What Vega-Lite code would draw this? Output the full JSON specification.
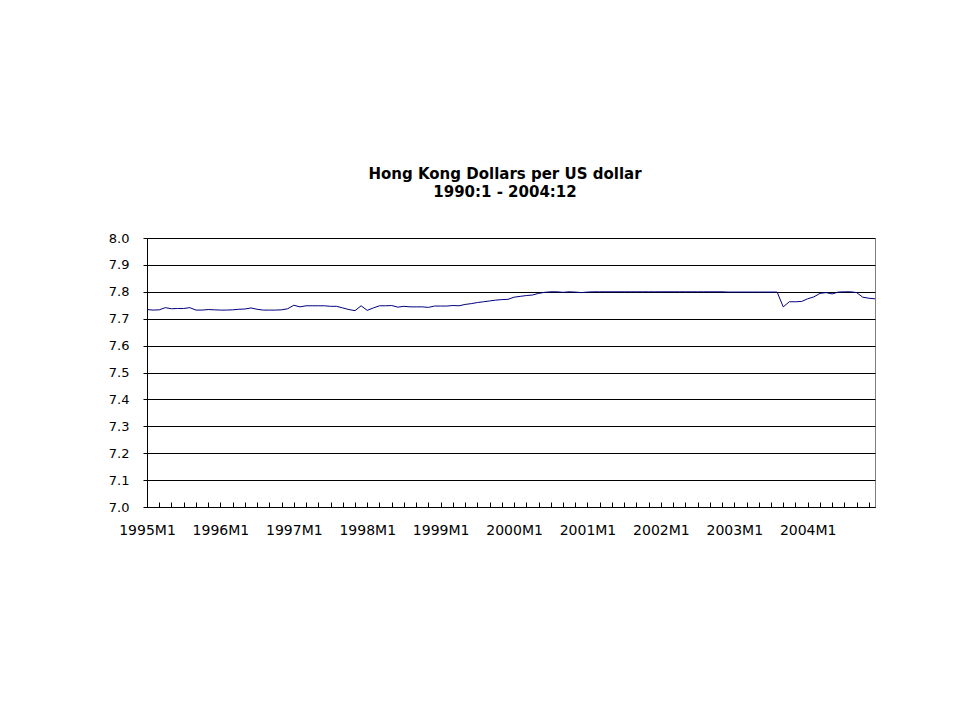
{
  "$schema": "https://vega.github.io/schema/vega-lite/v6.json",
  "width": 728,
  "height": 269,
  "autosize": {"type": "none"},
  "padding": {"left": 147, "top": 238, "right": 81, "bottom": 214},
  "background": "white",
  "title": {
    "text": ["Hong Kong Dollars per US dollar", "1990:1 - 2004:12"],
    "font": "DejaVu Sans",
    "fontSize": 15,
    "fontWeight": "bold",
    "color": "black",
    "anchor": "middle",
    "offset": 32,
    "lineHeight": 18,
    "dx": -6
  },
  "data": {
    "values": [
      {"period": "1995M1", "rate": 7.734}, {"period": "1995M2", "rate": 7.732}, {"period": "1995M3", "rate": 7.733}, {"period": "1995M4", "rate": 7.741},
      {"period": "1995M5", "rate": 7.737}, {"period": "1995M6", "rate": 7.738}, {"period": "1995M7", "rate": 7.738}, {"period": "1995M8", "rate": 7.741},
      {"period": "1995M9", "rate": 7.732}, {"period": "1995M10", "rate": 7.732}, {"period": "1995M11", "rate": 7.734}, {"period": "1995M12", "rate": 7.733},
      {"period": "1996M1", "rate": 7.732}, {"period": "1996M2", "rate": 7.732}, {"period": "1996M3", "rate": 7.733}, {"period": "1996M4", "rate": 7.735},
      {"period": "1996M5", "rate": 7.736}, {"period": "1996M6", "rate": 7.740}, {"period": "1996M7", "rate": 7.735}, {"period": "1996M8", "rate": 7.732},
      {"period": "1996M9", "rate": 7.732}, {"period": "1996M10", "rate": 7.732}, {"period": "1996M11", "rate": 7.733}, {"period": "1996M12", "rate": 7.737},
      {"period": "1997M1", "rate": 7.750}, {"period": "1997M2", "rate": 7.744}, {"period": "1997M3", "rate": 7.748}, {"period": "1997M4", "rate": 7.748},
      {"period": "1997M5", "rate": 7.748}, {"period": "1997M6", "rate": 7.748}, {"period": "1997M7", "rate": 7.746}, {"period": "1997M8", "rate": 7.746},
      {"period": "1997M9", "rate": 7.740}, {"period": "1997M10", "rate": 7.734}, {"period": "1997M11", "rate": 7.730}, {"period": "1997M12", "rate": 7.748},
      {"period": "1998M1", "rate": 7.731}, {"period": "1998M2", "rate": 7.740}, {"period": "1998M3", "rate": 7.748}, {"period": "1998M4", "rate": 7.748},
      {"period": "1998M5", "rate": 7.749}, {"period": "1998M6", "rate": 7.743}, {"period": "1998M7", "rate": 7.746}, {"period": "1998M8", "rate": 7.744},
      {"period": "1998M9", "rate": 7.744}, {"period": "1998M10", "rate": 7.744}, {"period": "1998M11", "rate": 7.742}, {"period": "1998M12", "rate": 7.747},
      {"period": "1999M1", "rate": 7.747}, {"period": "1999M2", "rate": 7.747}, {"period": "1999M3", "rate": 7.749}, {"period": "1999M4", "rate": 7.748},
      {"period": "1999M5", "rate": 7.753}, {"period": "1999M6", "rate": 7.756}, {"period": "1999M7", "rate": 7.760}, {"period": "1999M8", "rate": 7.763},
      {"period": "1999M9", "rate": 7.766}, {"period": "1999M10", "rate": 7.769}, {"period": "1999M11", "rate": 7.771}, {"period": "1999M12", "rate": 7.772},
      {"period": "2000M1", "rate": 7.780}, {"period": "2000M2", "rate": 7.783}, {"period": "2000M3", "rate": 7.786}, {"period": "2000M4", "rate": 7.788},
      {"period": "2000M5", "rate": 7.794}, {"period": "2000M6", "rate": 7.798}, {"period": "2000M7", "rate": 7.800}, {"period": "2000M8", "rate": 7.800},
      {"period": "2000M9", "rate": 7.798}, {"period": "2000M10", "rate": 7.800}, {"period": "2000M11", "rate": 7.799}, {"period": "2000M12", "rate": 7.797},
      {"period": "2001M1", "rate": 7.799}, {"period": "2001M2", "rate": 7.800}, {"period": "2001M3", "rate": 7.800}, {"period": "2001M4", "rate": 7.800},
      {"period": "2001M5", "rate": 7.800}, {"period": "2001M6", "rate": 7.800}, {"period": "2001M7", "rate": 7.800}, {"period": "2001M8", "rate": 7.800},
      {"period": "2001M9", "rate": 7.800}, {"period": "2001M10", "rate": 7.800}, {"period": "2001M11", "rate": 7.800}, {"period": "2001M12", "rate": 7.800},
      {"period": "2002M1", "rate": 7.800}, {"period": "2002M2", "rate": 7.800}, {"period": "2002M3", "rate": 7.800}, {"period": "2002M4", "rate": 7.800},
      {"period": "2002M5", "rate": 7.800}, {"period": "2002M6", "rate": 7.800}, {"period": "2002M7", "rate": 7.800}, {"period": "2002M8", "rate": 7.800},
      {"period": "2002M9", "rate": 7.800}, {"period": "2002M10", "rate": 7.800}, {"period": "2002M11", "rate": 7.800}, {"period": "2002M12", "rate": 7.799},
      {"period": "2003M1", "rate": 7.799}, {"period": "2003M2", "rate": 7.799}, {"period": "2003M3", "rate": 7.799}, {"period": "2003M4", "rate": 7.799},
      {"period": "2003M5", "rate": 7.799}, {"period": "2003M6", "rate": 7.799}, {"period": "2003M7", "rate": 7.799}, {"period": "2003M8", "rate": 7.799},
      {"period": "2003M9", "rate": 7.744}, {"period": "2003M10", "rate": 7.763}, {"period": "2003M11", "rate": 7.763}, {"period": "2003M12", "rate": 7.764},
      {"period": "2004M1", "rate": 7.774}, {"period": "2004M2", "rate": 7.781}, {"period": "2004M3", "rate": 7.794}, {"period": "2004M4", "rate": 7.797},
      {"period": "2004M5", "rate": 7.792}, {"period": "2004M6", "rate": 7.799}, {"period": "2004M7", "rate": 7.800}, {"period": "2004M8", "rate": 7.800},
      {"period": "2004M9", "rate": 7.797}, {"period": "2004M10", "rate": 7.780}, {"period": "2004M11", "rate": 7.776}, {"period": "2004M12", "rate": 7.774}
    ]
  },
  "mark": {"type": "line", "color": "#000080", "strokeWidth": 1},
  "encoding": {
    "x": {
      "field": "period",
      "type": "ordinal",
      "sort": null,
      "scale": {"type": "point", "padding": 0},
      "axis": {
        "title": null,
        "values": ["1995M1","1995M3","1995M5","1995M7","1995M9","1995M11","1996M1","1996M3","1996M5","1996M7","1996M9","1996M11","1997M1","1997M3","1997M5","1997M7","1997M9","1997M11","1998M1","1998M3","1998M5","1998M7","1998M9","1998M11","1999M1","1999M3","1999M5","1999M7","1999M9","1999M11","2000M1","2000M3","2000M5","2000M7","2000M9","2000M11","2001M1","2001M3","2001M5","2001M7","2001M9","2001M11","2002M1","2002M3","2002M5","2002M7","2002M9","2002M11","2003M1","2003M3","2003M5","2003M7","2003M9","2003M11","2004M1","2004M3","2004M5","2004M7","2004M9","2004M11"],
        "labelExpr": "test(/M1$/, datum.value) ? datum.value : ''",
        "labelAngle": 0,
        "labelOverlap": false,
        "tickSize": -5,
        "tickColor": "black",
        "domainColor": "black",
        "labelPadding": 21,
        "labelFont": "DejaVu Sans",
        "labelFontSize": 14,
        "labelColor": "black",
        "grid": false
      }
    },
    "y": {
      "field": "rate",
      "type": "quantitative",
      "scale": {"domain": [7, 8], "nice": false, "zero": false},
      "axis": {
        "title": null,
        "values": [7, 7.1, 7.2, 7.3, 7.4, 7.5, 7.6, 7.7, 7.8, 7.9, 8],
        "format": ".1f",
        "tickSize": 4,
        "tickColor": "black",
        "domainColor": "black",
        "grid": true,
        "gridColor": "black",
        "gridOpacity": 1,
        "labelPadding": 14,
        "labelFont": "DejaVu Sans",
        "labelFontSize": 13,
        "labelColor": "black"
      }
    }
  },
  "config": {"view": {"stroke": "#808080", "strokeWidth": 1}}
}
